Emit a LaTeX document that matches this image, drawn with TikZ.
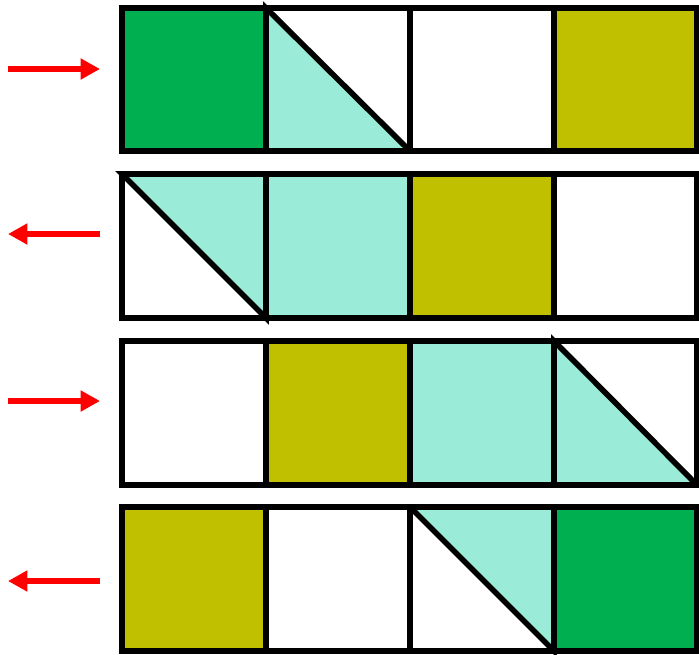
\documentclass[tikz,border=0pt]{standalone}
\usetikzlibrary{arrows.meta}
\definecolor{cgreen}{HTML}{00B050}
\definecolor{cteal}{HTML}{9BEBD9}
\definecolor{colive}{HTML}{C0C000}
\begin{document}
\begin{tikzpicture}[x=0.75pt,y=-0.75pt,
  cellline/.style={line width=4.2pt,draw=black,line join=miter,miter limit=10},
  redarrow/.style={draw=red,line width=4.6pt,-{Triangle[length=14.5pt 0,width=15pt 0]}}]
\useasboundingbox (0,0) rectangle (699,654);
% row 1
\fill[cgreen] (122,8) rectangle (266,151);
\fill[colive] (554,8) rectangle (697,151);
\filldraw[fill=cteal,cellline] (266,8) -- (410,151) -- (266,151) -- cycle;
% row 2
\fill[cteal] (266,174) rectangle (410,318);
\fill[colive] (410,174) rectangle (554,318);
\filldraw[fill=cteal,cellline] (122,174) -- (266,318) -- (266,174) -- cycle;
% row 3
\fill[colive] (266,341) rectangle (410,485);
\fill[cteal] (410,341) rectangle (554,485);
\filldraw[fill=cteal,cellline] (554,341) -- (697,485) -- (554,485) -- cycle;
% row 4
\fill[colive] (122,507) rectangle (266,651);
\fill[cgreen] (554,507) rectangle (697,651);
\filldraw[fill=cteal,cellline] (410,507) -- (554,651) -- (554,507) -- cycle;
% grid outlines
\foreach \t/\b in {8/151,174/318,341/485,507/651}{
  \draw[cellline] (122,\t) rectangle (697,\b);
  \draw[cellline] (266,\t) -- (266,\b);
  \draw[cellline] (410,\t) -- (410,\b);
  \draw[cellline] (554,\t) -- (554,\b);
}
% arrows
\coordinate (a1l) at (8,69);  \coordinate (a1r) at (100,69);
\coordinate (a2l) at (8,234); \coordinate (a2r) at (100,234);
\coordinate (a3l) at (8,401); \coordinate (a3r) at (100,401);
\coordinate (a4l) at (8,581); \coordinate (a4r) at (100,581);
\draw[redarrow] (a1l) -- (a1r);
\draw[redarrow] (a2r) -- (a2l);
\draw[redarrow] (a3l) -- (a3r);
\draw[redarrow] (a4r) -- (a4l);
\end{tikzpicture}
\end{document}
